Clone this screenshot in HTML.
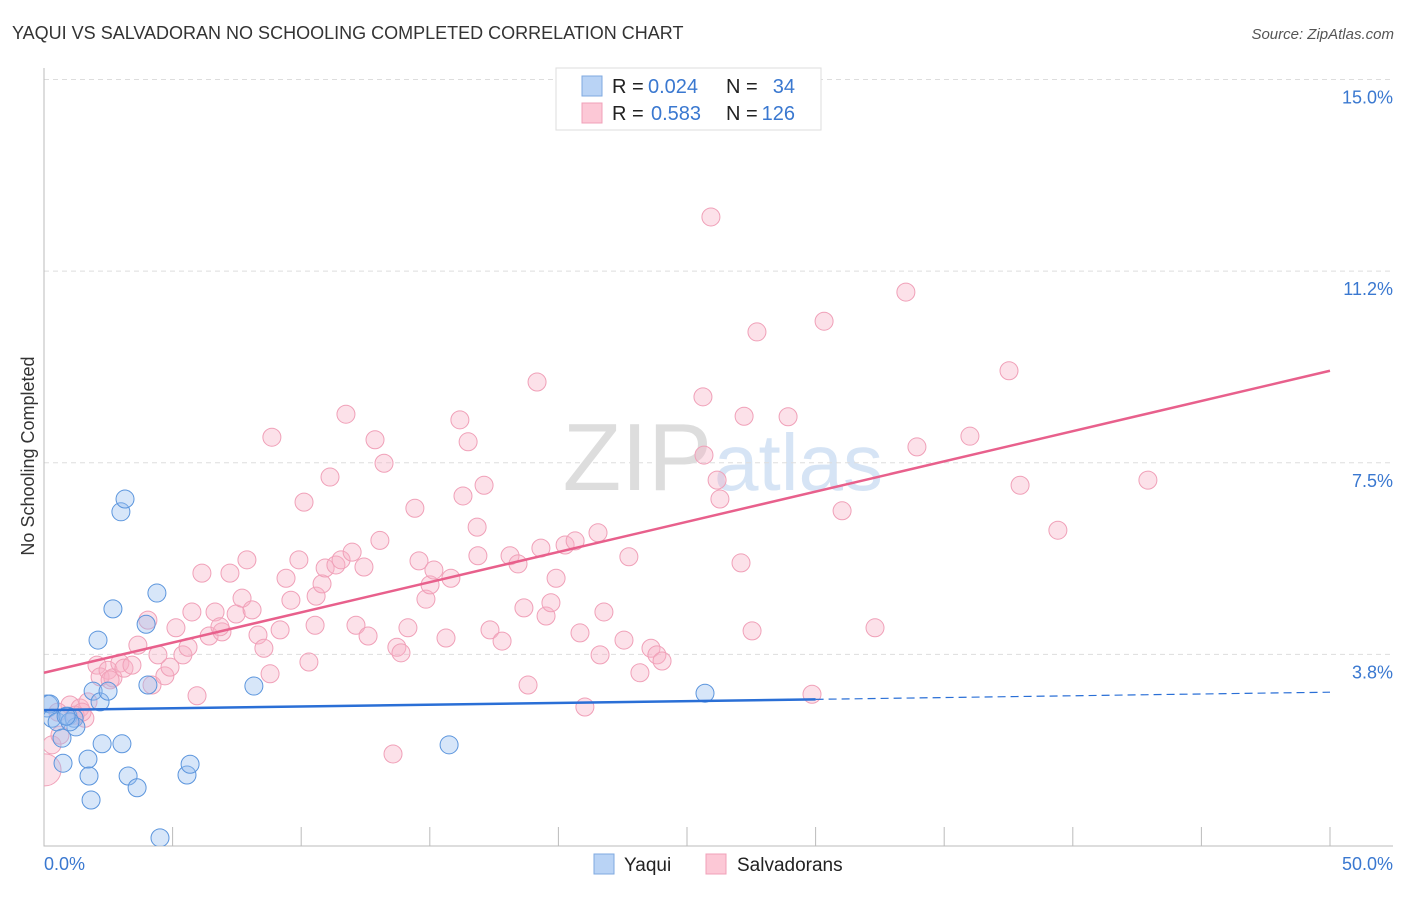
<!DOCTYPE html>
<html><head><meta charset="utf-8"><style>
body{margin:0;background:#fff;font-family:"Liberation Sans",sans-serif;}
svg text{font-family:"Liberation Sans",sans-serif;}
</style></head><body>
<svg id="chart" width="1406" height="892">
<defs><clipPath id="plotclip"><rect x="44" y="60" width="1360" height="786"/></clipPath></defs>
<text x="12" y="39" font-size="18" fill="#333">YAQUI VS SALVADORAN NO SCHOOLING COMPLETED CORRELATION CHART</text>
<text x="1394" y="39" font-size="15" fill="#555" text-anchor="end" font-style="italic">Source: ZipAtlas.com</text>
<text x="712" y="490" font-size="96" fill="#ddd" text-anchor="end" font-family="Liberation Serif">ZIP</text>
<text x="714" y="490" font-size="80" fill="#d6e4f5">atlas</text>
<g id="grid"></g><g id="axes"></g><g id="pts" clip-path="url(#plotclip)"></g><g id="lines"></g>
<text transform="translate(34,456) rotate(-90)" font-size="18" fill="#333" text-anchor="middle">No Schooling Completed</text>
<text x="44" y="870" font-size="18" fill="#3a78d0">0.0%</text>
<text x="1393" y="870" font-size="18" fill="#3a78d0" text-anchor="end">50.0%</text>
<g>
<rect x="556" y="68" width="265" height="62" fill="#fff" stroke="#ddd"/>
<rect x="582" y="76" width="20" height="20" fill="#b9d3f5" stroke="#7fa9e0"/>
<rect x="582" y="103" width="20" height="20" fill="#fcc8d6" stroke="#f0a0b8"/>
<text x="612" y="93" font-size="20" fill="#222">R =</text>
<text x="648" y="93" font-size="20" fill="#3a78d0">0.024</text>
<text x="726" y="93" font-size="20" fill="#222">N =</text>
<text x="795" y="93" font-size="20" fill="#3a78d0" text-anchor="end">34</text>
<text x="612" y="120" font-size="20" fill="#222">R =</text>
<text x="651" y="120" font-size="20" fill="#3a78d0">0.583</text>
<text x="726" y="120" font-size="20" fill="#222">N =</text>
<text x="795" y="120" font-size="20" fill="#3a78d0" text-anchor="end">126</text>
</g>
<g>
<rect x="594" y="854" width="20" height="20" fill="#b9d3f5" stroke="#7fa9e0"/>
<text x="624" y="871" font-size="19" fill="#222">Yaqui</text>
<rect x="706" y="854" width="20" height="20" fill="#fcc8d6" stroke="#f0a0b8"/>
<text x="737" y="871" font-size="19" fill="#222">Salvadorans</text>
</g>
</svg>
<script>
const yTicks=[3.75,7.5,11.25,15];
const yTickLabels=["3.8%","7.5%","11.2%","15.0%"];
const xTicks=[0,5,10,15,20,25,30,35,40,45,50];
const yaquiX=[.12,.23,.31,.51,.70,.93,1.17,1.24,1.01,.74,1.71,1.75,1.83,1.91,2.18,2.49,2.26,3.03,2.10,2.68,2.99,3.15,3.97,4.39,4.04,3.27,3.62,5.56,5.68,4.51,8.16,15.75,25.70,.86];
const yaquiY=[2.74,2.78,2.50,2.43,2.11,2.54,2.50,2.33,2.43,1.62,1.70,1.37,.90,3.03,2.82,3.03,2.00,2.00,4.03,4.64,6.54,6.79,4.34,4.95,3.15,1.37,1.14,1.39,1.60,.16,3.13,1.98,2.99,2.54];
const salvX=[.04,.31,.62,1.01,1.40,1.59,1.71,2.06,2.18,2.49,2.68,2.95,3.11,3.42,2.57,4.04,3.65,4.20,4.70,4.90,5.40,5.13,4.43,5.60,5.95,5.75,6.14,6.42,6.65,6.92,6.84,7.23,7.47,7.70,7.89,8.09,8.32,8.55,8.79,8.86,9.18,9.41,9.60,9.91,10.11,10.30,10.58,10.54,10.81,10.93,11.12,11.35,11.55,11.74,11.98,12.13,12.44,12.60,12.87,13.06,13.22,13.57,13.72,13.88,14.15,14.42,14.58,14.85,15.01,15.16,15.63,15.82,16.17,16.29,16.49,16.84,16.87,17.11,17.34,17.81,18.12,18.43,18.66,18.82,19.17,19.32,19.52,19.71,19.91,20.26,20.65,20.84,21.03,21.54,21.62,21.77,22.55,22.74,23.17,23.60,23.83,24.03,25.62,25.66,25.93,26.17,26.28,27.10,27.22,27.53,27.72,28.93,29.86,30.33,31.03,32.31,33.51,33.94,36.00,37.52,37.95,39.42,42.92,.54,1.21,1.48];
const salvY=[1.49,1.98,2.17,2.76,2.70,2.50,2.82,3.54,3.31,3.44,3.29,3.58,3.48,3.54,3.25,4.42,3.93,3.15,3.33,3.50,3.74,4.27,3.74,3.89,2.94,4.58,5.34,4.11,4.58,4.19,4.29,5.34,4.54,4.85,5.60,4.62,4.13,3.87,3.37,8.00,4.23,5.24,4.81,5.60,6.73,3.60,4.89,4.32,5.13,5.44,7.22,5.50,5.60,8.45,5.75,4.32,5.46,4.11,7.95,5.98,7.49,1.80,3.89,3.78,4.27,6.61,5.58,4.83,5.11,5.40,4.07,5.24,8.34,6.85,7.91,6.24,5.68,7.06,4.23,4.01,5.68,5.52,4.66,3.15,9.08,5.83,4.50,4.76,5.24,5.89,5.97,4.17,2.72,6.13,3.74,4.58,4.03,5.66,3.39,3.87,3.74,3.62,8.79,7.65,12.31,7.16,6.79,5.54,8.41,4.21,10.06,8.40,2.97,10.27,6.56,4.27,10.84,7.81,8.02,9.30,7.06,6.18,7.16,2.62,2.56,2.62];
const yaquiTrend=[2.66,3.01]; // y at x=0 and x=50
const salvTrend=[3.39,9.30];
const yaquiSolidEnd=30;
const NS='http://www.w3.org/2000/svg';
const X=v=>44+v*25.72, Y=v=>846-v*51.1;
function mk(t,a,p){const e=document.createElementNS(NS,t);for(const k in a)e.setAttribute(k,a[k]);p.appendChild(e);return e;}
const grid=document.getElementById('grid'),axes=document.getElementById('axes'),pts=document.getElementById('pts'),lines=document.getElementById('lines');
yTicks.forEach((v,i)=>{
 const l=mk('line',{x1:44,x2:1393,y1:Y(v),y2:Y(v),stroke:'#ddd','stroke-dasharray':'5,4'},grid);
 
 
 const t=mk('text',{x:1393,y:Y(v)+24,'font-size':18,fill:'#3a78d0','text-anchor':'end'},grid);
 t.textContent=yTickLabels[i];
 
 
});
const ax=mk('path',{d:'M44 68V846H1393',stroke:'#bbb',fill:'none'},axes);


xTicks.forEach(v=>{if(v===0)return;
 const l=mk('line',{x1:X(v),x2:X(v),y1:827,y2:846,stroke:'#bbb'},axes);
 
 
});
function dots(xs,ys,fill,stroke,name){xs.forEach((x,i)=>{
 const r=(x<0.2&&name==='salvadoran-point')?16:(x<0.2?11:9);
 const c=mk('circle',{cx:X(x),cy:Y(ys[i]),r:r,fill:fill,stroke:stroke,'stroke-width':1},pts);
 
 
});}
dots(salvX,salvY,'rgba(248,175,196,0.38)','#f0a0b8','salvadoran-point');
dots(yaquiX,yaquiY,'rgba(150,190,240,0.38)','#5b95dd','yaqui-point');
const yv=x=>yaquiTrend[0]+(yaquiTrend[1]-yaquiTrend[0])*x/50;
const b1=mk('line',{x1:X(0),y1:Y(yv(0)),x2:X(yaquiSolidEnd),y2:Y(yv(yaquiSolidEnd)),stroke:'#2a6fd6','stroke-width':2.5},lines);


const b2=mk('line',{x1:X(yaquiSolidEnd),y1:Y(yv(yaquiSolidEnd)),x2:X(50),y2:Y(yv(50)),stroke:'#2a6fd6','stroke-width':1.2,'stroke-dasharray':'8,5'},lines);


const p1=mk('line',{x1:X(0),y1:Y(salvTrend[0]),x2:X(50),y2:Y(salvTrend[1]),stroke:'#e8608c','stroke-width':2.5},lines);


</script>
</body></html>
